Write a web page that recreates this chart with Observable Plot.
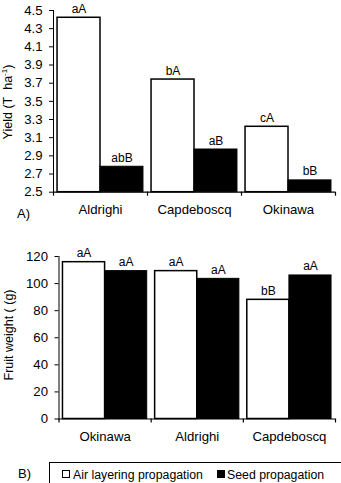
<!DOCTYPE html>
<html><head><meta charset="utf-8">
<script src="https://cdn.jsdelivr.net/npm/d3@7"></script>
<script src="https://cdn.jsdelivr.net/npm/@observablehq/plot@0.6"></script>
<style>
body{margin:0;background:#fff;font-family:"Liberation Sans",Arial,sans-serif;color:#000;}
#wrap{position:relative;width:341px;height:483px;overflow:hidden;background:#fff;}
.abs{position:absolute;white-space:nowrap;line-height:1;}
.rot{transform:translate(-50%,-50%) rotate(-90deg);}
.mid{transform:translateY(-50%);}
.sw{position:absolute;width:6px;height:6px;border:1px solid #000;}
</style></head><body><div id="wrap"></div>
<script>
// ---- Data ----
const categoriesA = ["Aldrighi", "Capdeboscq", "Okinawa"];
const airA = [4.42, 3.74, 3.22];
const seedA = [2.78, 2.97, 2.63];
const airLettersA = ["aA", "bA", "cA"];
const seedLettersA = ["abB", "aB", "bB"];
const yTicksA = [2.5, 2.7, 2.9, 3.1, 3.3, 3.5, 3.7, 3.9, 4.1, 4.3, 4.5];
const yDomainA = [2.5, 4.5];

const categoriesB = ["Okinawa", "Aldrighi", "Capdeboscq"];
const airB = [115.8, 109.2, 88.0];
const seedB = [109.2, 103.5, 106.0];
const airLettersB = ["aA", "aA", "bB"];
const seedLettersB = ["aA", "aA", "aA"];
const yTicksB = [0, 20, 40, 60, 80, 100, 120];
const yDomainB = [0, 120];

const seriesNames = ["Air layering propagation", "Seed propagation"];

const wrap = document.getElementById("wrap");

function makeChart(cats, air, seed, airL, seedL, yTicks, yDomain, fmt, lay) {
  const rows = cats.map((c, i) => ({cat: c, air: air[i], seed: seed[i], airL: airL[i], seedL: seedL[i]}));
  const pi = 0.086, po = 0.043;
  const range = lay.width - lay.marginLeft - lay.marginRight;
  const step = range / (cats.length - pi + 2 * po);
  const bw = step * (1 - pi);
  const half = bw / 2;
  const y0 = yDomain[0];
  const svg = Plot.plot({
    width: lay.width, height: lay.height,
    marginTop: lay.marginTop, marginBottom: lay.marginBottom,
    marginLeft: lay.marginLeft, marginRight: lay.marginRight,
    style: {fontFamily: "'Liberation Sans', Arial, sans-serif", fontSize: "13.2px", color: "#000", background: "transparent", overflow: "visible"},
    x: {domain: cats, type: "band", paddingInner: pi, paddingOuter: po, round: false, tickSize: 0, tickPadding: 12.5, label: null},
    y: {domain: yDomain, ticks: yTicks, tickFormat: fmt, tickSize: 4, tickPadding: 7, line: true, label: null},
    marks: [
      Plot.barY(rows, {x: "cat", y1: y0, y2: "air", fill: "white", stroke: "black", strokeWidth: 1.5, insetRight: half}),
      Plot.barY(rows, {x: "cat", y1: y0, y2: "seed", fill: "black", stroke: "black", strokeWidth: 1, insetLeft: half}),
      Plot.ruleY([y0], {stroke: "black", strokeWidth: 1.2}),
      Plot.ruleX(cats, {x: d => d, dx: -step / 2, y1: y0, y2: y0, insetBottom: -4, stroke: "black", strokeWidth: 1.2}),
      Plot.ruleX([cats[cats.length - 1]], {x: d => d, dx: step / 2, y1: y0, y2: y0, insetBottom: -4, stroke: "black", strokeWidth: 1.2}),
      Plot.text(rows, {x: "cat", y: "air", text: "airL", dx: -half / 2, dy: -5, lineAnchor: "bottom", fontSize: 12, fill: "black"}),
      Plot.text(rows, {x: "cat", y: "seed", text: "seedL", dx: half / 2, dy: -5, lineAnchor: "bottom", fontSize: 12, fill: "black"})
    ]
  });
  svg.style.position = "absolute";
  svg.style.left = "0px";
  svg.style.top = lay.top + "px";
  wrap.appendChild(svg);
}

makeChart(categoriesA, airA, seedA, airLettersA, seedLettersA, yTicksA, yDomainA, d3.format(".1f"),
  {top: 0, width: 341, height: 222, marginTop: 10, marginBottom: 30.3, marginLeft: 53, marginRight: 6});
makeChart(categoriesB, airB, seedB, airLettersB, seedLettersB, yTicksB, yDomainB, d => String(d),
  {top: 236, width: 341, height: 213, marginTop: 20, marginBottom: 30.5, marginLeft: 58.5, marginRight: 6});

function addText(html, x, y, cls, size) {
  const d = document.createElement("div");
  d.className = "abs " + cls;
  d.style.left = x + "px";
  d.style.top = y + "px";
  d.style.fontSize = size + "px";
  d.innerHTML = html;
  wrap.appendChild(d);
  return d;
}
addText("Yield (T&nbsp; ha<sup style='font-size:8px;vertical-align:5px'>-1</sup>)", 8, 102, "rot", 12.5);
addText("Fruit weight ( (g)", 9, 335, "rot", 12.5);
addText("A)", 17, 213, "mid", 13);
addText("B)", 18, 473, "mid", 13);

// legend box
const box = document.createElement("div");
box.style.cssText = "position:absolute;left:49px;top:462px;width:300px;height:40px;border:1px solid #000;";
wrap.appendChild(box);
const sw1 = document.createElement("div");
sw1.className = "sw"; sw1.style.left = "62px"; sw1.style.top = "470px"; sw1.style.background = "#fff";
wrap.appendChild(sw1);
const sw2 = document.createElement("div");
sw2.className = "sw"; sw2.style.left = "217px"; sw2.style.top = "470px"; sw2.style.background = "#000";
wrap.appendChild(sw2);
addText(seriesNames[0], 73, 474.5, "mid", 12.3);
addText(seriesNames[1], 227, 474.5, "mid", 12.3);
</script>
</body></html>
